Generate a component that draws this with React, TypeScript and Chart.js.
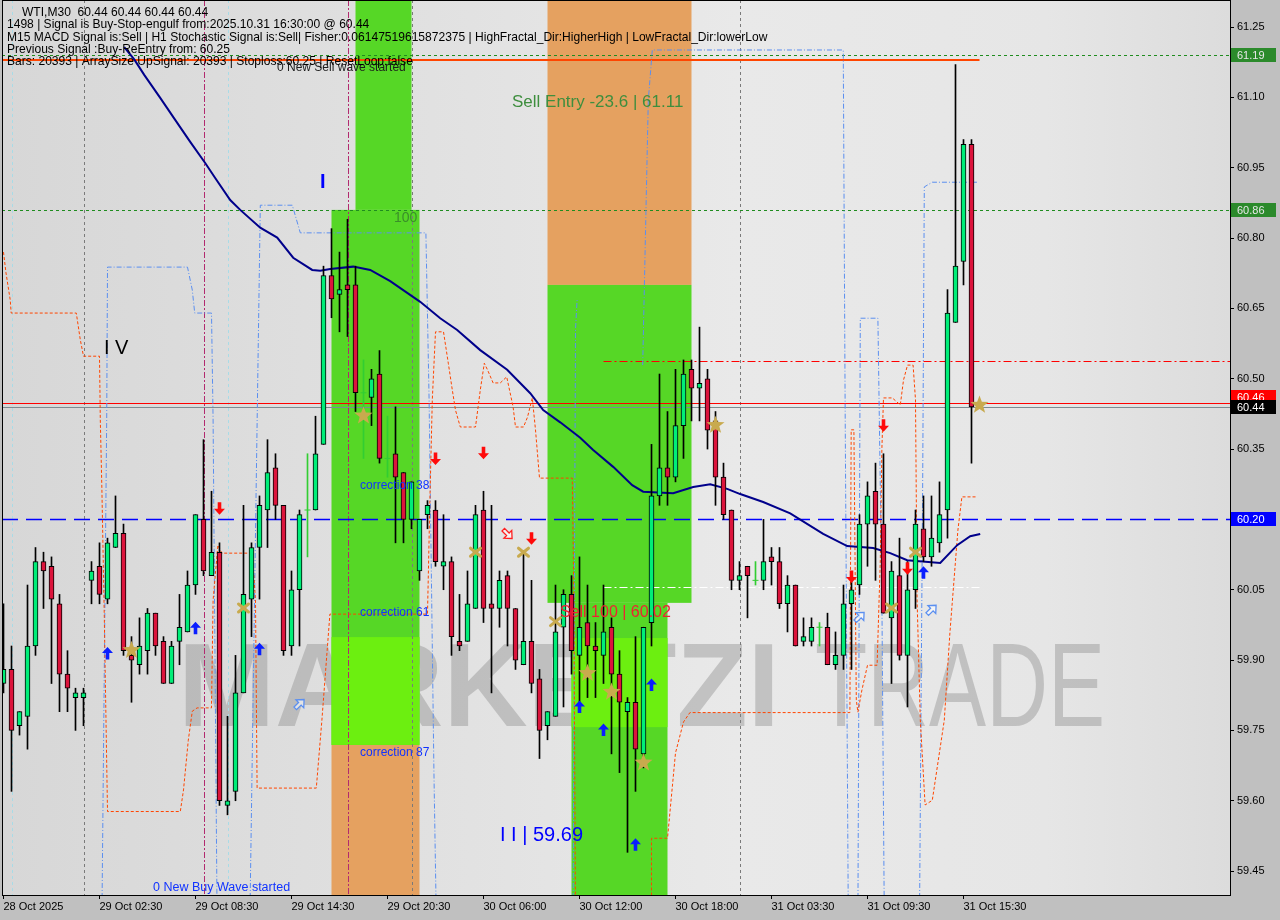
import React, { useEffect, useRef } from "react";
import { Chart, registerables } from "chart.js";

Chart.register(...registerables);

// ---------------- data (bar index = 30-minute bars, price in USD) ----------------
const candleOpen = [
  59.85, 59.88, 59.76, 59.78, 59.93, 60.11, 60.10, 60.02, 59.87, 59.82,
  59.82, 60.07, 60.10, 60.03, 60.14, 60.17, 59.91, 59.89, 59.92, 60.00,
  59.94, 59.85, 59.94, 59.96, 60.06, 60.20, 60.08, 60.13, 59.59, 59.62,
  59.83, 60.03, 60.14, 60.22, 60.31, 60.23, 59.93, 60.05, 60.22, 60.22,
  60.36, 60.72, 60.68, 60.70, 60.70, 60.47, 60.46, 60.51, 60.33, 60.34,
  60.30, 60.20, 60.09, 60.21, 60.22, 60.10, 60.11, 59.94, 59.94, 60.01,
  60.22, 60.02, 60.01, 60.08, 60.01, 59.89, 59.94, 59.86, 59.76, 59.78,
  59.97, 60.04, 59.91, 59.98, 59.93, 59.91, 59.97, 59.87, 59.79, 59.81,
  59.70, 59.98, 60.25, 60.31, 60.29, 60.40, 60.52, 60.48, 60.50, 60.41,
  60.29, 60.22, 60.07, 60.10, 60.07, 60.07, 60.12, 60.11, 60.02, 60.06,
  59.94, 59.94, 59.97, 59.97, 59.89, 59.91, 60.02, 60.06, 60.19, 60.26,
  60.19, 59.99, 60.08, 59.91, 60.05, 60.18, 60.12, 60.15, 60.22, 60.62,
  60.75, 61.00, 60.44,
];
const candleHigh = [
  60.02, 59.93, 59.79, 60.06, 60.14, 60.13, 60.12, 60.04, 59.92, 59.84,
  59.84, 60.11, 60.15, 60.16, 60.25, 60.19, 59.95, 59.99, 60.01, 60.00,
  59.95, 59.94, 60.04, 60.09, 60.21, 60.37, 60.26, 60.15, 59.78, 59.91,
  60.23, 60.15, 60.25, 60.37, 60.34, 60.23, 60.09, 60.22, 60.34, 60.42,
  60.74, 60.82, 60.77, 60.84, 60.74, 60.54, 60.52, 60.56, 60.42, 60.44,
  60.30, 60.28, 60.20, 60.24, 60.24, 60.21, 60.12, 60.04, 60.09, 60.23,
  60.26, 60.23, 60.09, 60.09, 60.01, 60.13, 60.07, 59.88, 59.79, 60.06,
  60.05, 60.08, 60.12, 60.06, 59.98, 60.06, 59.99, 59.92, 59.82, 59.95,
  59.97, 60.36, 60.51, 60.43, 60.52, 60.54, 60.54, 60.61, 60.52, 60.43,
  60.32, 60.22, 60.11, 60.10, 60.11, 60.20, 60.14, 60.14, 60.08, 60.06,
  59.99, 59.99, 59.98, 60.00, 59.96, 60.06, 60.07, 60.21, 60.28, 60.32,
  60.34, 60.11, 60.16, 60.11, 60.22, 60.25, 60.25, 60.28, 60.69, 61.17,
  61.01, 61.01, 60.44,
];
const candleLow = [
  59.83, 59.62, 59.74, 59.71, 59.91, 60.01, 59.85, 59.79, 59.79, 59.75,
  59.76, 60.02, 60.02, 60.02, 60.14, 59.91, 59.81, 59.87, 59.87, 59.91,
  59.85, 59.85, 59.89, 59.96, 60.04, 60.08, 60.08, 59.59, 59.57, 59.60,
  59.83, 59.95, 60.03, 60.14, 60.20, 59.91, 59.91, 59.93, 60.12, 60.22,
  60.36, 60.63, 60.60, 60.59, 60.43, 60.33, 60.40, 60.32, 60.29, 60.15,
  60.15, 60.18, 60.07, 60.18, 60.10, 60.05, 59.91, 59.92, 59.94, 60.01,
  59.98, 59.83, 59.97, 59.93, 59.88, 59.89, 59.83, 59.69, 59.73, 59.78,
  59.80, 59.87, 59.80, 59.82, 59.82, 59.85, 59.70, 59.66, 59.49, 59.62,
  59.67, 59.93, 60.23, 60.23, 60.28, 60.33, 60.41, 60.41, 60.35, 60.23,
  60.20, 60.05, 60.05, 59.99, 60.06, 60.05, 60.06, 60.01, 59.96, 59.93,
  59.93, 59.93, 59.93, 59.89, 59.88, 59.88, 59.88, 60.04, 60.10, 60.07,
  60.00, 59.85, 59.90, 59.80, 60.01, 60.11, 60.10, 60.13, 60.16, 60.62,
  60.70, 60.32, 60.44,
];
const candleClose = [
  59.88, 59.75, 59.79, 59.93, 60.11, 60.09, 60.03, 59.87, 59.84, 59.83,
  59.83, 60.09, 60.04, 60.15, 60.17, 59.92, 59.90, 59.93, 60.00, 59.93,
  59.85, 59.93, 59.97, 60.06, 60.21, 60.09, 60.13, 59.60, 59.60, 59.83,
  60.04, 60.14, 60.23, 60.30, 60.23, 59.92, 60.05, 60.21, 60.22, 60.34,
  60.72, 60.67, 60.69, 60.69, 60.47, 60.47, 60.50, 60.33, 60.33, 60.29,
  60.20, 60.28, 60.20, 60.23, 60.11, 60.11, 59.95, 59.93, 60.02, 60.21,
  60.01, 60.01, 60.07, 60.01, 59.90, 59.94, 59.85, 59.75, 59.79, 59.96,
  60.04, 59.92, 59.97, 59.93, 59.92, 59.96, 59.87, 59.81, 59.81, 59.71,
  59.97, 60.25, 60.31, 60.29, 60.40, 60.51, 60.48, 60.49, 60.39, 60.29,
  60.21, 60.07, 60.08, 60.08, 60.07, 60.11, 60.11, 60.02, 60.06, 59.93,
  59.95, 59.97, 59.97, 59.89, 59.91, 60.02, 60.05, 60.19, 60.25, 60.19,
  60.00, 60.09, 59.91, 60.05, 60.19, 60.12, 60.16, 60.21, 60.64, 60.74,
  61.00, 60.44, 60.44,
];

const xTickBars = [0, 12, 24, 36, 48, 60, 72, 84, 96, 108, 120];
const xTickLabels = [
  "28 Oct 2025", "29 Oct 02:30", "29 Oct 08:30", "29 Oct 14:30", "29 Oct 20:30",
  "30 Oct 06:00", "30 Oct 12:00", "30 Oct 18:00", "31 Oct 03:30", "31 Oct 09:30", "31 Oct 15:30",
];
const yTickValues = [61.25, 61.1, 60.95, 60.8, 60.65, 60.5, 60.35, 60.2, 60.05, 59.9, 59.75, 59.6, 59.45];

// moving average
const maBars = [
  15.09, 16.34, 17.59, 19.59, 21.46, 23.34, 25.21, 26.46, 28.34, 29.59, 32.09, 34.21, 36.21, 38.59,
  39.59, 40.84, 43.71, 45.84, 48.34, 52.09, 54.59, 56.71, 59.59, 62.96, 65.84, 67.46, 69.59, 72.09,
  73.71, 76.21, 78.59, 79.96, 83.71, 86.21, 88.34, 90.46, 92.09, 94.96, 98.34, 102.46, 105.46,
  108.71, 110.84, 112.96, 117.09, 119.21, 120.84, 122.09,
];
const maValues = [
  61.207, 61.181, 61.148, 61.099, 61.052, 61.005, 60.96, 60.928, 60.881, 60.86, 60.822, 60.801,
  60.758, 60.732, 60.73, 60.734, 60.739, 60.732, 60.708, 60.664, 60.629, 60.604, 60.561, 60.519,
  60.469, 60.433, 60.407, 60.374, 60.348, 60.312, 60.273, 60.259, 60.256, 60.269, 60.275, 60.265,
  60.254, 60.237, 60.213, 60.169, 60.143, 60.139, 60.128, 60.113, 60.107, 60.145, 60.164, 60.169,
];

// orange dashed envelope
const orangeBars = [
  0.0, 0.3, 0.84, 0.96, 9.1, 9.6, 10.0, 12.0, 12.1, 12.3, 12.6, 13.0, 22.1, 22.5, 23.1, 23.6, 24.2,
  26.0, 26.2, 26.8, 27.3, 31.1, 31.5, 31.7, 39.1, 39.8, 40.8, 53.0, 53.3, 53.6, 54.0, 55.0, 55.6,
  56.1, 56.5, 57.1, 59.0, 59.6, 60.1, 60.5, 61.2, 62.1, 62.9, 63.7, 64.0, 65.0, 65.5, 66.1, 66.5,
  67.0, 71.1, 71.3, 71.5, 81.0, 81.0, 83.0, 84.0, 85.0, 85.8, 104.8, 105.8, 105.96, 106.3, 106.6,
  106.8, 107.3, 108.0, 109.2, 109.6, 109.8, 110.0, 111.1, 112.1, 112.5, 113.0, 113.7, 114.0, 114.2,
  114.6, 115.2, 116.1, 117.6, 118.3, 119.3, 119.8, 121.7,
];
const orangePrices = [
  60.77, 60.727, 60.668, 60.64, 60.64, 60.583, 60.548, 60.548, 60.412, 60.263, 59.992, 59.577,
  59.577, 59.623, 59.729, 59.791, 59.798, 59.798, 60.028, 60.145, 60.128, 60.128, 60.028, 59.627,
  59.627, 59.772, 59.998, 59.998, 60.241, 60.455, 60.6, 60.6, 60.533, 60.476, 60.433, 60.397,
  60.397, 60.476, 60.533, 60.519, 60.491, 60.491, 60.504, 60.44, 60.397, 60.397, 60.418, 60.459,
  60.391, 60.288, 60.288, 60.028, 59.35, 59.35, 59.52, 59.52, 59.702, 59.768, 59.788, 59.788,
  59.788, 60.391, 60.391, 59.815, 59.789, 59.836, 59.889, 59.889, 60.113, 60.352, 60.459, 60.459,
  60.444, 60.497, 60.529, 60.529, 60.455, 60.028, 59.772, 59.591, 59.601, 59.772, 59.958, 60.177,
  60.248, 60.248,
];

// blue dash-dot envelope (null separates segments)
const blueBars = [
  12.3, 12.9, 13.0, 23.0, 23.6, 23.9, 26.0, 26.2, 26.7, 26.8,
  30.8, 31.8, 32.1, 36.1, 37.1, 52.8, 53.2, 53.8, 54.1, 54.2,
  71.2, 71.5, 71.7, 71.8,
  79.9, 80.6, 81.1, 104.97, 105.2, 105.6, 105.7,
  106.8, 107.1, 109.3, 109.8, 110.1, 110.2,
  114.5, 114.9, 115.1, 116.1, 121.8,
];
const bluePrices = [
  59.35, 60.412, 60.738, 60.738, 60.689, 60.64, 60.64, 60.412, 59.35, null,
  59.35, 60.521, 60.87, 60.87, 60.811, 60.811, 60.455, 59.665, 59.35, null,
  59.35, 60.604, 60.668, null,
  60.529, 61.094, 61.201, 61.201, 60.455, 59.35, null,
  59.35, 60.629, 60.629, 60.028, 59.35, null,
  59.35, 60.284, 60.909, 60.919, 60.919,
];

// signal markers
const buyArrowBars = [13, 24, 32, 72, 75, 79, 81, 115];
const buyArrowPrices = [59.914, 59.968, 59.923, 59.8, 59.751, 59.506, 59.847, 60.086];
const sellArrowBars = [27, 54, 60, 66, 106, 110, 113];
const sellArrowPrices = [60.224, 60.33, 60.342, 60.16, 60.078, 60.401, 60.096];
const starBars = [16, 45, 73, 76, 80, 89, 122];
const starPrices = [59.921, 60.421, 59.872, 59.832, 59.681, 60.401, 60.444];
const crossBars = [30, 59, 65, 69, 111, 114];
const crossPrices = [60.011, 60.13, 60.13, 59.982, 60.011, 60.13];
const hollowUpBars = [37, 107, 116];
const hollowUpPrices = [59.806, 59.992, 60.007];
const hollowDownBars = [63];
const hollowDownPrices = [60.169];

// zones: [fromBar, toBar, topPrice, bottomPrice]
const zoneFromBars = [44, 41, 41, 68, 68, 71, 41, 71];
const zoneToBars = [51, 52, 52, 86, 86, 83, 52, 83];
const zoneTopPrices = [61.4, 60.86, 59.719, 61.4, 60.7, 60.022, 59.949, 59.947];
const zoneBottomPrices = [60.86, 59.719, 59.3, 60.7, 60.022, 59.3, 59.719, 59.757];
const zoneKinds = ["green", "green", "orange", "orange", "green", "green", "lime", "lime"];

// horizontal levels
const levelPrices = [61.19, 60.86, 61.18, 60.538, 60.448, 60.44, 60.2, 60.056];
const levelFromBars = [-2, -2, -2, 75, -2, -2, -2, 75];
const levelToBars = [160, 160, 122, 160, 160, 160, 160, 122];

// vertical separators
const vlineBars = [1.05, 28.1, 10, 51, 92, 25, 43];
const vlineKinds = ["cyan", "cyan", "gray", "gray", "gray", "magenta", "magenta"];

// price boxes on axis
const boxPrices = [61.19, 60.86, 60.46, 60.44, 60.2];
const boxTexts = ["61.19", "60.86", "60.46", "60.44", "60.20"];

// text notes anchored at bar / price
const noteTexts = [
  "0 New Sell wave started", "Sell Entry -23.6 | 61.11", "I", "100", "I V", "correction 38",
  "correction 61", "correction 87", "Sell 100 | 60.02", "I I | 59.69", "0 New Buy Wave started",
];
const noteBars = [34.19, 63.56, 39.56, 48.8, 12.56, 44.56, 44.56, 44.56, 69.56, 62.06, 18.69];
const notePrices = [61.1626, 61.09, 60.919, 60.843, 60.565, 60.271, 60.002, 59.702, 60.002, 59.525, 59.414];

const headerLines = [
  "WTI,M30  60.44 60.44 60.44 60.44",
  "1498 | Signal is Buy-Stop-engulf from:2025.10.31 16:30:00 @ 60.44",
  "M15 MACD Signal is:Sell | H1 Stochastic Signal is:Sell| Fisher:0.06147519615872375 | HighFractal_Dir:HigherHigh | LowFractal_Dir:lowerLow",
  "Previous Signal :Buy-ReEntry from: 60.25",
  "Bars: 20393 | ArraySize UpSignal: 20393 | Stoploss:60.25 | ResetLoop:false",
];

// ---------------- styles ----------------
const FONT = "'Liberation Sans', Arial, sans-serif";
const BULL = "#00ee78";
const BEAR = "#dc143c";
const DOJI = "#32cd32";
const zoneColors: Record<string, string> = { green: "#56d726", lime: "#6cef10", orange: "#e5a160" };
const levelStyles = [
  { color: "#1f8c1f", width: 1, dash: [3, 3] },
  { color: "#1f8c1f", width: 1, dash: [3, 3] },
  { color: "#ff4500", width: 2, dash: [] },
  { color: "#ff0000", width: 1, dash: [8, 3, 2, 3] },
  { color: "#ff0000", width: 1, dash: [] },
  { color: "#7d8a90", width: 1, dash: [] },
  { color: "#0000ff", width: 1.3, dash: [16, 8] },
  { color: "#ffffff", width: 1, dash: [8, 3, 2, 3] },
];
const vlineStyles: Record<string, any> = {
  cyan: { color: "#a9dbe6", dash: [3, 3] },
  gray: { color: "#7a7a7a", dash: [3, 3] },
  magenta: { color: "#b22a6f", dash: [6, 2, 2, 2] },
};
const boxColors = [
  { bg: "#2b8a2b", fg: "#e8e8e8" },
  { bg: "#2b8a2b", fg: "#e8e8e8" },
  { bg: "#ff0000", fg: "#ffffff" },
  { bg: "#000000", fg: "#ffffff" },
  { bg: "#0000ff", fg: "#ffffff" },
];
const noteStyles = [
  { color: "#1c1c1c", font: `12px ${FONT}` },
  { color: "#3e8e3e", font: `17px ${FONT}` },
  { color: "#0000ff", font: `bold 20px ${FONT}` },
  { color: "#3a8f2a", font: `14px ${FONT}` },
  { color: "#000000", font: `20px ${FONT}` },
  { color: "#1133ff", font: `12px ${FONT}` },
  { color: "#1133ff", font: `12px ${FONT}` },
  { color: "#1133ff", font: `12px ${FONT}` },
  { color: "#ee2233", font: `16px ${FONT}` },
  { color: "#0000ff", font: `20px ${FONT}` },
  { color: "#1133ff", font: `12.5px ${FONT}` },
];
const headerPos = [
  [22, 13], [7, 25], [7, 37.5], [7, 50], [7, 62],
];

// ---------------- drawing helpers ----------------
function arrowPath(ctx: CanvasRenderingContext2D) {
  ctx.beginPath();
  ctx.moveTo(0, -6.5);
  ctx.lineTo(5.5, -0.5);
  ctx.lineTo(1.8, -0.5);
  ctx.lineTo(1.8, 6);
  ctx.lineTo(-1.8, 6);
  ctx.lineTo(-1.8, -0.5);
  ctx.lineTo(-5.5, -0.5);
  ctx.closePath();
}
function drawArrow(ctx: CanvasRenderingContext2D, x: number, y: number, angle: number, color: string, hollow: boolean) {
  ctx.save();
  ctx.translate(x, y);
  ctx.rotate(angle);
  arrowPath(ctx);
  if (hollow) {
    ctx.lineWidth = 1.3;
    ctx.strokeStyle = color;
    ctx.fillStyle = "rgba(255,255,255,0.6)";
    ctx.fill();
    ctx.stroke();
  } else {
    ctx.fillStyle = color;
    ctx.fill();
  }
  ctx.restore();
}
function drawStar(ctx: CanvasRenderingContext2D, x: number, y: number) {
  const R = 9.5, r = 4;
  ctx.beginPath();
  for (let k = 0; k < 10; k++) {
    const rad = k % 2 === 0 ? R : r;
    const a = -Math.PI / 2 + (k * Math.PI) / 5;
    const px = x + rad * Math.cos(a);
    const py = y + rad * Math.sin(a);
    if (k === 0) ctx.moveTo(px, py);
    else ctx.lineTo(px, py);
  }
  ctx.closePath();
  ctx.fillStyle = "#c8aa4e";
  ctx.fill();
}
function drawCross(ctx: CanvasRenderingContext2D, x: number, y: number) {
  ctx.save();
  ctx.strokeStyle = "#c8aa4e";
  ctx.lineWidth = 3;
  ctx.lineCap = "round";
  ctx.beginPath();
  ctx.moveTo(x - 5, y - 4);
  ctx.lineTo(x + 5, y + 4);
  ctx.moveTo(x - 5, y + 4);
  ctx.lineTo(x + 5, y - 4);
  ctx.stroke();
  ctx.restore();
}

const overlayPlugin = {
  id: "mt4overlay",
  beforeDraw(chart: any) {
    const { ctx, chartArea: a } = chart;
    ctx.save();
    ctx.fillStyle = "#c0c0c0";
    ctx.fillRect(0, 0, chart.width, chart.height);
    const g = ctx.createLinearGradient(a.left, 0, a.right, 0);
    g.addColorStop(0, "#d7d7d7");
    g.addColorStop(0.35, "#e1e1e1");
    g.addColorStop(0.6, "#e9e9e9");
    g.addColorStop(0.85, "#e6e6e6");
    g.addColorStop(1, "#dcdcdc");
    ctx.fillStyle = g;
    ctx.fillRect(a.left, a.top, a.right - a.left, a.bottom - a.top);
    // watermark
    ctx.fillStyle = "rgba(140,140,140,0.42)";
    ctx.textBaseline = "alphabetic";
    ctx.textAlign = "left";
    ctx.font = `bold 119px ${FONT}`;
    let w = ctx.measureText("MARKETZI").width;
    ctx.save();
    ctx.translate(178, 726);
    ctx.scale(602 / w, 1);
    ctx.fillText("MARKETZI", 0, 0);
    ctx.restore();
    ctx.font = `119px ${FONT}`;
    w = ctx.measureText("TRADE").width;
    ctx.save();
    ctx.translate(815, 726);
    ctx.scale(290 / w, 1);
    ctx.fillText("TRADE", 0, 0);
    ctx.restore();
    ctx.restore();
  },
  beforeDatasetsDraw(chart: any) {
    const { ctx, chartArea: a, scales } = chart;
    const X = (v: number) => scales.x.getPixelForValue(v);
    const Y = (v: number) => scales.y.getPixelForValue(v);
    ctx.save();
    ctx.beginPath();
    ctx.rect(a.left, a.top, a.right - a.left, a.bottom - a.top);
    ctx.clip();
    // zones
    for (let i = 0; i < zoneFromBars.length; i++) {
      const x0 = X(zoneFromBars[i]);
      const x1 = X(zoneToBars[i]);
      const y0 = Y(zoneTopPrices[i]);
      const y1 = Y(zoneBottomPrices[i]);
      ctx.fillStyle = zoneColors[zoneKinds[i]];
      ctx.fillRect(x0, y0, x1 - x0, y1 - y0);
    }
    // vertical separators
    for (let i = 0; i < vlineBars.length; i++) {
      const st = vlineStyles[vlineKinds[i]];
      const x = Math.round(X(vlineBars[i])) + 0.5;
      ctx.strokeStyle = st.color;
      ctx.lineWidth = 1;
      ctx.setLineDash(st.dash);
      ctx.beginPath();
      ctx.moveTo(x, a.top);
      ctx.lineTo(x, a.bottom);
      ctx.stroke();
    }
    // horizontal levels
    for (let i = 0; i < levelPrices.length; i++) {
      const st = levelStyles[i];
      const y = Math.round(Y(levelPrices[i])) + (st.width === 2 ? 0 : 0.5);
      ctx.strokeStyle = st.color;
      ctx.lineWidth = st.width;
      ctx.setLineDash(st.dash);
      ctx.beginPath();
      ctx.moveTo(Math.max(a.left, X(levelFromBars[i])), y);
      ctx.lineTo(Math.min(a.right, X(levelToBars[i])), y);
      ctx.stroke();
    }
    ctx.setLineDash([]);
    ctx.restore();
  },
  afterDatasetsDraw(chart: any) {
    const { ctx, chartArea: a, scales } = chart;
    const X = (v: number) => scales.x.getPixelForValue(v);
    const Y = (v: number) => scales.y.getPixelForValue(v);
    ctx.save();
    ctx.beginPath();
    ctx.rect(a.left, a.top, a.right - a.left, a.bottom - a.top);
    ctx.clip();
    for (let i = 0; i < buyArrowBars.length; i++) drawArrow(ctx, X(buyArrowBars[i]), Y(buyArrowPrices[i]), 0, "#0a1eff", false);
    for (let i = 0; i < sellArrowBars.length; i++) drawArrow(ctx, X(sellArrowBars[i]), Y(sellArrowPrices[i]), Math.PI, "#ff0a0a", false);
    for (let i = 0; i < hollowUpBars.length; i++) drawArrow(ctx, X(hollowUpBars[i]), Y(hollowUpPrices[i]), Math.PI / 4, "#5b8ff0", true);
    for (let i = 0; i < hollowDownBars.length; i++) drawArrow(ctx, X(hollowDownBars[i]), Y(hollowDownPrices[i]), (3 * Math.PI) / 4, "#ff2020", true);
    for (let i = 0; i < crossBars.length; i++) drawCross(ctx, X(crossBars[i]), Y(crossPrices[i]));
    for (let i = 0; i < starBars.length; i++) drawStar(ctx, X(starBars[i]), Y(starPrices[i]));
    // notes
    ctx.textAlign = "left";
    ctx.textBaseline = "middle";
    for (let i = 0; i < noteTexts.length; i++) {
      ctx.font = noteStyles[i].font;
      ctx.fillStyle = noteStyles[i].color;
      ctx.fillText(noteTexts[i], X(noteBars[i]), Y(notePrices[i]));
    }
    ctx.restore();
  },
  afterDraw(chart: any) {
    const { ctx, chartArea: a, scales } = chart;
    const Y = (v: number) => scales.y.getPixelForValue(v);
    ctx.save();
    // frame
    ctx.strokeStyle = "#000";
    ctx.lineWidth = 1;
    ctx.strokeRect(a.left + 0.5, a.top + 0.5, a.right - a.left, a.bottom - a.top);
    // header comment
    ctx.font = `11px ${FONT}`;
    const ref = ctx.measureText(headerLines[2]).width;
    const size = (11 * 761) / ref;
    ctx.font = `${size.toFixed(2)}px ${FONT}`;
    ctx.fillStyle = "#000";
    ctx.textBaseline = "middle";
    ctx.textAlign = "left";
    for (let i = 0; i < headerLines.length; i++) ctx.fillText(headerLines[i], headerPos[i][0], headerPos[i][1]);
    // price boxes
    ctx.font = `11px ${FONT}`;
    for (let i = 0; i < boxPrices.length; i++) {
      const y = Y(boxPrices[i]);
      ctx.fillStyle = boxColors[i].bg;
      ctx.fillRect(a.right + 1, Math.round(y) - 7, 45, 14);
      ctx.fillStyle = boxColors[i].fg;
      ctx.fillText(boxTexts[i], a.right + 7, Math.round(y) + 0.5);
    }
    ctx.restore();
  },
};

const zeroPad = (s: any) => {
  s.paddingTop = 0;
  s.paddingBottom = 0;
  s.paddingLeft = 0;
  s.paddingRight = 0;
};

const App = () => {
  const ref = useRef<HTMLCanvasElement>(null);
  useEffect(() => {
    document.body.style.margin = "0";
    const idx = candleOpen.map((_, i) => i);
    const bodyIdx = idx.filter((i) => candleOpen[i] !== candleClose[i]);
    const dojiIdx = idx.filter((i) => candleOpen[i] === candleClose[i]);
    const chart = new Chart(ref.current as HTMLCanvasElement, {
      type: "bar",
      data: {
        datasets: [
          {
            type: "line",
            label: "blue",
            data: blueBars.map((b, i) => ({ x: b, y: bluePrices[i] })),
            borderColor: "#5b8ff0",
            borderWidth: 1,
            borderDash: [5, 2, 1, 2],
            pointRadius: 0,
            spanGaps: false,
            order: 7,
          } as any,
          {
            type: "line",
            label: "orange",
            data: orangeBars.map((b, i) => ({ x: b, y: orangePrices[i] })),
            borderColor: "#ff4500",
            borderWidth: 1,
            borderDash: [3, 2],
            pointRadius: 0,
            order: 6,
          } as any,
          {
            type: "line",
            label: "MA",
            data: maBars.map((b, i) => ({ x: b, y: maValues[i] })),
            borderColor: "#00008b",
            borderWidth: 2,
            pointRadius: 0,
            order: 5,
          } as any,
          {
            type: "bar",
            label: "wick",
            data: idx.map((i) => ({ x: i, y: [candleLow[i], candleHigh[i]] })),
            backgroundColor: idx.map((i) => (candleOpen[i] === candleClose[i] ? DOJI : "#000000")),
            borderWidth: 0,
            barPercentage: 1,
            categoryPercentage: 1,
            maxBarThickness: 1,
            grouped: false,
            order: 4,
          } as any,
          {
            type: "bar",
            label: "body",
            data: bodyIdx.map((i) => ({ x: i, y: [candleOpen[i], candleClose[i]] })),
            backgroundColor: bodyIdx.map((i) => (candleClose[i] > candleOpen[i] ? BULL : BEAR)),
            borderColor: "#000000",
            borderWidth: 1,
            borderSkipped: false,
            barPercentage: 1,
            categoryPercentage: 1,
            maxBarThickness: 5,
            grouped: false,
            order: 3,
          } as any,
          {
            type: "line",
            label: "doji",
            data: dojiIdx.map((i) => ({ x: i, y: candleClose[i] })),
            showLine: false,
            pointStyle: "line",
            pointRadius: 3,
            pointBorderColor: DOJI,
            pointBorderWidth: 1,
            order: 2,
          } as any,
        ],
      },
      options: {
        responsive: false,
        animation: false,
        devicePixelRatio: 1,
        events: [],
        layout: { autoPadding: false, padding: { left: 2, top: 0, right: 0, bottom: 0 } },
        plugins: { legend: { display: false }, tooltip: { enabled: false } },
        scales: {
          x: {
            type: "linear",
            min: -0.1875,
            max: 153.3125,
            offset: false,
            afterFit: (s: any) => {
              s.height = 25;
              zeroPad(s);
            },
            afterBuildTicks: (s: any) => {
              s.ticks = xTickBars.map((v) => ({ value: v }));
            },
            grid: { drawOnChartArea: false, drawTicks: true, tickLength: 4, color: "#000", offset: false },
            border: { display: true, color: "#000" },
            ticks: {
              autoSkip: false,
              maxRotation: 0,
              minRotation: 0,
              align: "start",
              padding: 1,
              color: "#000",
              font: { family: FONT, size: 11 },
              callback: (v: any) => {
                const k = xTickBars.indexOf(Number(v));
                return k >= 0 ? xTickLabels[k] : "";
              },
            },
          } as any,
          y: {
            type: "linear",
            position: "right",
            min: 59.399,
            max: 61.3076,
            afterFit: (s: any) => {
              s.width = 50;
              zeroPad(s);
            },
            afterBuildTicks: (s: any) => {
              s.ticks = yTickValues.map((v) => ({ value: v }));
            },
            grid: { drawOnChartArea: false, drawTicks: true, tickLength: 4, color: "#000" },
            border: { display: true, color: "#000" },
            ticks: {
              autoSkip: false,
              padding: 3,
              color: "#000",
              font: { family: FONT, size: 11 },
              callback: (v: any) => Number(v).toFixed(2),
            },
          } as any,
        },
      },
      plugins: [overlayPlugin],
    } as any);
    return () => chart.destroy();
  }, []);
  return (
    <div style={{ position: "absolute", left: 0, top: 0, width: 1280, height: 920 }}>
      <canvas ref={ref} width={1280} height={920} style={{ display: "block", width: 1280, height: 920 }} />
    </div>
  );
};

export default App;
